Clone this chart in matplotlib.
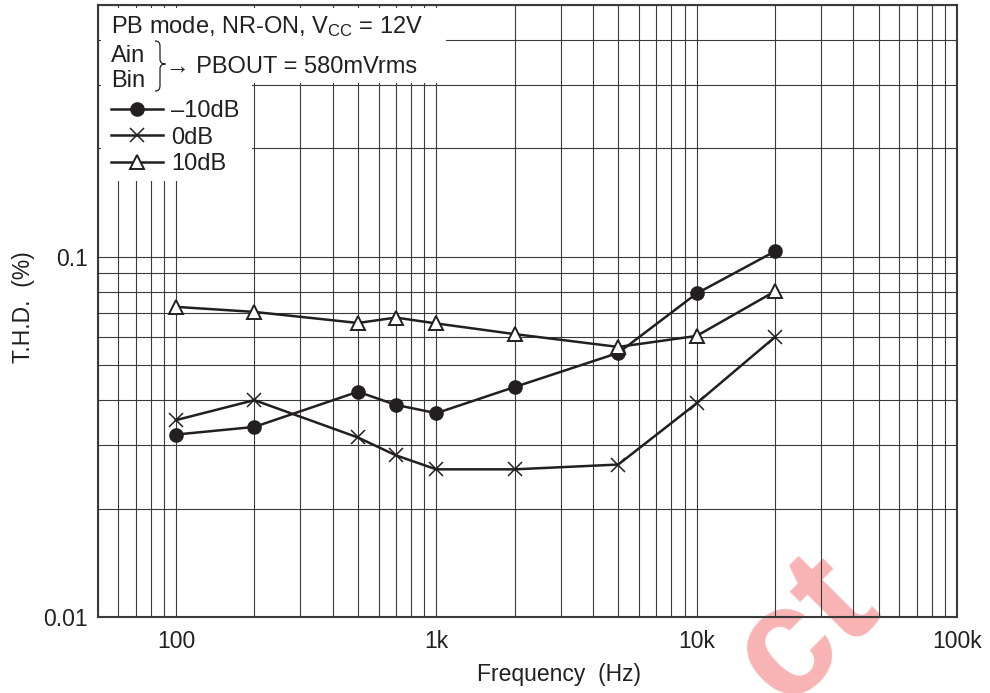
import matplotlib
matplotlib.use('Agg')
import matplotlib.pyplot as plt
from matplotlib.ticker import FixedLocator, FixedFormatter, LogLocator, NullFormatter
from matplotlib.patches import Polygon, PathPatch
from matplotlib.path import Path
from matplotlib.transforms import Affine2D

# ---------------- data ----------------
freq = [100, 200, 500, 700, 1000, 2000, 5000, 10000, 20000]
thd_m10 = [0.0321, 0.0337, 0.0422, 0.0388, 0.0368, 0.0435, 0.0541, 0.0791, 0.1036]
thd_0 = [0.0352, 0.0400, 0.0315, 0.0281, 0.0257, 0.0257, 0.0265, 0.0392, 0.0599]
thd_10 = [0.0726, 0.0703, 0.0655, 0.0678, 0.0653, 0.0610, 0.0562, 0.0603, 0.0802]
series_labels = ['\u201310dB', '0dB', '10dB']
xtick_vals = [100, 1000, 10000, 100000]
xtick_labels = ['100', '1k', '10k', '100k']
ytick_vals = [0.01, 0.1]
ytick_labels = ['0.01', '0.1']

plt.rcParams['font.family'] = ['Liberation Sans', 'DejaVu Sans']
plt.rcParams['mathtext.fontset'] = 'custom'
plt.rcParams['mathtext.rm'] = 'Liberation Sans'
plt.rcParams['mathtext.it'] = 'Liberation Sans'

W, H = 990, 693
fig = plt.figure(figsize=(W / 100, H / 100), dpi=100)
AX_L, AX_R, AX_T, AX_B = 97.6, 957.0, 5.0, 617.0
ax = fig.add_axes([AX_L / W, 1 - AX_B / H, (AX_R - AX_L) / W, (AX_B - AX_T) / H])
ax.patch.set_alpha(0)

def axfrac(px, py):
    return ((px - AX_L) / (AX_R - AX_L), (AX_B - py) / (AX_B - AX_T))

pix = Affine2D().scale(1 / W, -1 / H).translate(0, 1) + fig.transFigure

LC = '#231f20'
fs = 16.5
fs_box = 17
ax.plot(freq, thd_m10, color=LC, lw=1.8, marker='o', ms=9.5, mfc=LC, mec=LC,
        label=series_labels[0], zorder=4)
ax.plot(freq, thd_0, color=LC, lw=1.8, marker='x', ms=10, mew=1.1,
        label=series_labels[1], zorder=4)
ax.plot(freq, thd_10, color=LC, lw=1.8, marker='^', ms=10.5, mfc='white', mec=LC,
        mew=1.4, label=series_labels[2], zorder=5)

ax.set_xscale('log')
ax.set_yscale('log')
ax.set_xlim(50, 100000)
ax.set_ylim(0.01, 0.5)

ax.xaxis.set_major_locator(FixedLocator(xtick_vals))
ax.xaxis.set_major_formatter(FixedFormatter(xtick_labels))
ax.xaxis.set_minor_locator(LogLocator(base=10, subs=range(2, 10), numticks=20))
ax.xaxis.set_minor_formatter(NullFormatter())
ax.yaxis.set_major_locator(FixedLocator(ytick_vals))
ax.yaxis.set_major_formatter(FixedFormatter(ytick_labels))
ax.yaxis.set_minor_locator(LogLocator(base=10, subs=range(2, 10), numticks=20))
ax.yaxis.set_minor_formatter(NullFormatter())

ax.set_axisbelow(True)
ax.grid(which='both', color='#3a3a3a', lw=0.8)
ax.tick_params(which='both', length=0, labelsize=fs, colors=LC)
ax.tick_params(axis='x', pad=9.5)
ax.tick_params(axis='y', pad=7)
for s in ax.spines.values():
    s.set_color('#3a3a3a')
    s.set_linewidth(1.5)

ax.set_xlabel('Frequency  (Hz)', fontsize=fs, color=LC)
ax.xaxis.set_label_coords(axfrac(559, 0)[0], axfrac(0, 662.5)[1])
ax.set_ylabel('T.H.D.  (%)', fontsize=fs, color=LC)
ax.yaxis.set_label_coords(axfrac(35, 0)[0], axfrac(0, 307)[1])

# white annotation area
poly = Polygon([axfrac(101, 8), axfrac(446, 8), axfrac(446, 83), axfrac(252, 83),
                axfrac(252, 181), axfrac(101, 181)], closed=True,
               transform=ax.transAxes, facecolor='white', edgecolor='none', zorder=1.5)
ax.add_patch(poly)

fig.text(111 / W, 1 - 33.3 / H, r'PB mode, NR-ON, V$_{\mathregular{CC}}$ = 12V',
         fontsize=fs_box, va='baseline', ha='left', color=LC)
fig.text(111 / W, 1 - 61.7 / H, 'Ain', fontsize=fs_box, va='baseline', ha='left', color=LC)
fig.text(111 / W, 1 - 87.3 / H, 'Bin', fontsize=fs_box, va='baseline', ha='left', color=LC)
fig.text(166 / W, 1 - 73 / H, '\u2192 PBOUT = 580mVrms', fontsize=fs_box, va='baseline',
         ha='left', color=LC)

verts = [(155, 41), (159, 41), (160, 43), (160, 47), (160, 59),
         (160, 62.5), (162, 64), (165.5, 64), (162, 64), (160, 65.5), (160, 69),
         (160, 85), (160, 89), (159, 91), (155, 91)]
codes = [Path.MOVETO, Path.CURVE4, Path.CURVE4, Path.CURVE4, Path.LINETO,
         Path.CURVE4, Path.CURVE4, Path.CURVE4, Path.CURVE4, Path.CURVE4, Path.CURVE4,
         Path.LINETO, Path.CURVE4, Path.CURVE4, Path.CURVE4]
fig.add_artist(PathPatch(Path(verts, codes), transform=pix, facecolor='none',
                         edgecolor=LC, lw=0.9))

leg = ax.legend(loc='upper left', bbox_to_anchor=axfrac(110.7, 100), frameon=False,
                handlelength=2.2, handletextpad=0.35, labelspacing=0.2,
                borderpad=0, borderaxespad=0, fontsize=fs_box)
for t in leg.get_texts():
    t.set_color(LC)

# watermark
wx, wy = 785, 708
fig.text(wx / W, 1 - wy / H, 'ct', fontsize=112, fontweight='bold', rotation=45,
         rotation_mode='anchor', ha='left', va='baseline', color='#f8b4b4', zorder=-1)

fig.savefig('out.png', dpi=100)
